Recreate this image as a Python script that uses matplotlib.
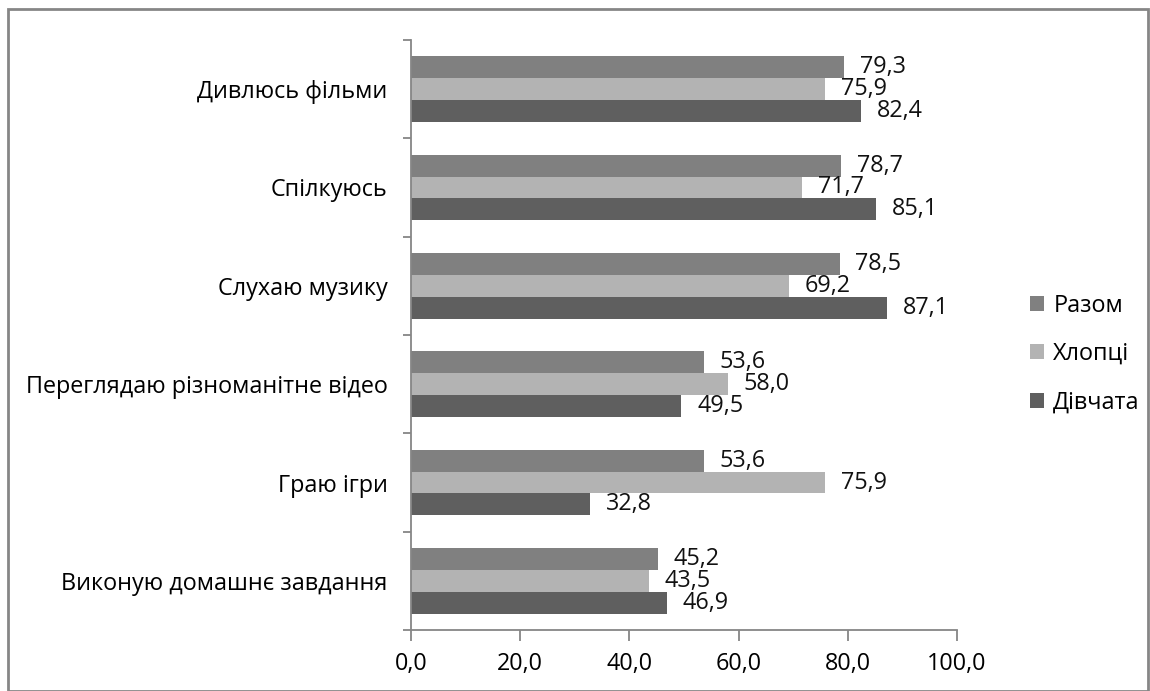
import matplotlib
matplotlib.use("Agg")
import matplotlib.pyplot as plt
import numpy as np
from matplotlib.patches import Rectangle

categories = ["Дивлюсь фільми", "Спілкуюсь", "Слухаю музику",
              "Переглядаю різноманітне відео", "Граю ігри", "Виконую домашнє завдання"]
razom = [79.3, 78.7, 78.5, 53.6, 53.6, 45.2]
khloptsi = [75.9, 71.7, 69.2, 58.0, 75.9, 43.5]
divchata = [82.4, 85.1, 87.1, 49.5, 32.8, 46.9]
series_names = ["Разом", "Хлопці", "Дівчата"]
colors = ["#808080", "#b3b3b3", "#5f5f5f"]
xticks = [0, 20, 40, 60, 80, 100]

plt.rcParams['font.family'] = ['Open Sans', 'DejaVu Sans']
FS = 16.8

fig = plt.figure(figsize=(11.5, 6.91), dpi=100)
ax = fig.add_axes([411/1150, 1-630/691, (957-411)/1150, (630-40)/691])

n = len(categories)
y = np.arange(n)[::-1].astype(float)
h = 0.222
data = [razom, khloptsi, divchata]
offsets = [h, 0, -h]
bars = []
for vals, off, c, name in zip(data, offsets, colors, series_names):
    b = ax.barh(y + off, vals, height=h, color=c, label=name, zorder=2)
    bars.append(b)
    for yi, v in zip(y + off, vals):
        ax.text(v + 2.9, yi, f"{v:.1f}".replace(".", ","), va="center", ha="left",
                fontsize=FS, color="#111111", zorder=3)

ax.set_xlim(0, 100)
ax.set_ylim(-0.5, n - 0.5)
ax.set_xticks(xticks)
ax.set_xticklabels([f"{t:.1f}".replace(".", ",") for t in xticks], fontsize=FS)
ax.set_yticks(y)
ax.set_yticklabels(categories, fontsize=FS)
ax.tick_params(axis="y", length=0, pad=17)
ax.set_yticks(np.arange(n + 1) - 0.5, minor=True)
ax.tick_params(axis="y", which="minor", length=6, color="#868686", width=1.3, direction="out")
ax.tick_params(axis="x", length=8, color="#868686", width=1.3, direction="out", pad=8)
for s in ["top", "right"]:
    ax.spines[s].set_visible(False)
for s in ["left", "bottom"]:
    ax.spines[s].set_color("#868686")
    ax.spines[s].set_linewidth(1.3)

leg = fig.legend(handles=bars, labels=series_names, loc="center left",
                 bbox_to_anchor=(1030/1150, 1-354/691), frameon=False, fontsize=FS,
                 handlelength=0.6, handleheight=0.6, handletextpad=0.4, labelspacing=1.05,
                 borderpad=0, borderaxespad=0)

fig.patches.append(Rectangle((8/1150, 0), 1140/1150, 1-9/691, transform=fig.transFigure,
                             fill=False, edgecolor="#868686", linewidth=2))

fig.savefig("out.png", dpi=100)
